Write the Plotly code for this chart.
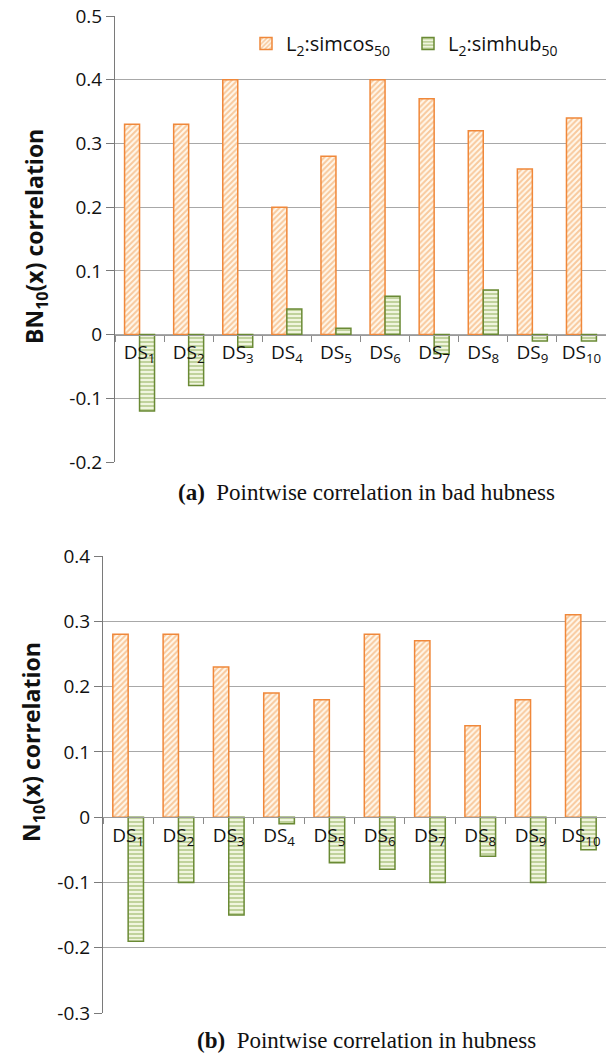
import plotly.graph_objects as go

# Datasets on the category axis
categories = ["DS<sub>1</sub>", "DS<sub>2</sub>", "DS<sub>3</sub>", "DS<sub>4</sub>", "DS<sub>5</sub>",
              "DS<sub>6</sub>", "DS<sub>7</sub>", "DS<sub>8</sub>", "DS<sub>9</sub>", "DS<sub>10</sub>"]

# (a) BN10(x) correlation
bad_simcos = [0.33, 0.33, 0.40, 0.20, 0.28, 0.40, 0.37, 0.32, 0.26, 0.34]
bad_simhub = [-0.12, -0.08, -0.02, 0.04, 0.01, 0.06, -0.03, 0.07, -0.01, -0.01]

# (b) N10(x) correlation
hub_simcos = [0.28, 0.28, 0.23, 0.19, 0.18, 0.28, 0.27, 0.14, 0.18, 0.31]
hub_simhub = [-0.19, -0.10, -0.15, -0.01, -0.07, -0.08, -0.10, -0.06, -0.10, -0.05]

top_ticks = [0.5, 0.4, 0.3, 0.2, 0.1, 0, -0.1, -0.2]
top_ticktext = ["0.5", "0.4", "0.3", "0.2", "0.1", "0", "-0.1", "-0.2"]
bot_ticks = [0.4, 0.3, 0.2, 0.1, 0, -0.1, -0.2, -0.3]
bot_ticktext = ["0.4", "0.3", "0.2", "0.1", "0", "-0.1", "-0.2", "-0.3"]

name_cos = "L<sub>2</sub>:simcos<sub>50</sub>"
name_hub = "L<sub>2</sub>:simhub<sub>50</sub>"

W, H = 606, 1053
SANS = "'Open Sans', Lato, sans-serif"
SERIF = "'Liberation Serif', 'DejaVu Serif', serif"

ORANGE_LINE = "#F0883A"
ORANGE_FG = "#F29A4E"
ORANGE_BG = "#FFF8EC"
GREEN_LINE = "#6A8A35"
GREEN_FG = "#86A64C"
GREEN_BG = "#F0F5DE"


def px_y(p):
    return 1 - p / H


def px_x(p):
    return p / W


top_rng = [-0.2, 0.5]
bot_rng = [-0.3, 0.4]
top_dom_x = [px_x(115), 1.0]
top_dom_y = [px_y(462), px_y(16)]
bot_dom_x = [px_x(103), 1.0]
bot_dom_y = [px_y(1013), px_y(556)]


def zero_pos(dom, rng):
    return dom[0] + (0 - rng[0]) / (rng[1] - rng[0]) * (dom[1] - dom[0])


def cos_marker():
    return dict(color=ORANGE_BG,
                line=dict(color=ORANGE_LINE, width=1.5),
                pattern=dict(shape="/", fgcolor=ORANGE_FG, bgcolor=ORANGE_BG,
                             size=4, solidity=0.5))


def hub_marker():
    return dict(color=GREEN_BG,
                line=dict(color=GREEN_LINE, width=1.5),
                pattern=dict(shape="-", fgcolor=GREEN_FG, bgcolor=GREEN_BG,
                             size=4, solidity=0.45))


fig = go.Figure()
fig.add_trace(go.Bar(x=categories, y=bad_simcos, name=name_cos, marker=cos_marker(),
                     xaxis="x", yaxis="y", legendgroup="cos"))
fig.add_trace(go.Bar(x=categories, y=bad_simhub, name=name_hub, marker=hub_marker(),
                     xaxis="x", yaxis="y", legendgroup="hub"))
fig.add_trace(go.Bar(x=categories, y=hub_simcos, name=name_cos, marker=cos_marker(),
                     xaxis="x2", yaxis="y2", showlegend=False, legendgroup="cos"))
fig.add_trace(go.Bar(x=categories, y=hub_simhub, name=name_hub, marker=hub_marker(),
                     xaxis="x2", yaxis="y2", showlegend=False, legendgroup="hub"))

cat_axis = dict(type="category", anchor="free", showgrid=False, zeroline=False,
                showline=True, linecolor="#9A9A9A", linewidth=1, automargin=False,
                ticks="outside", tickson="boundaries", ticklen=6, tickcolor="#8A8A8A",
                tickangle=0, ticklabelstandoff=1,
                tickfont=dict(family=SANS, size=19, color="#111"), fixedrange=True)
frame_axis = dict(range=[0, 1], showline=True, linecolor="#6E6E6E", linewidth=1.5,
                  showticklabels=False, ticks="", showgrid=False, zeroline=False,
                  automargin=False)
val_axis = dict(showgrid=True, gridcolor="#A8A8A8", gridwidth=1, zeroline=False,
                showline=True, linecolor="#7A7A7A", linewidth=1, automargin=False,
                ticks="outside", ticklen=8, tickcolor="#7A7A7A", ticklabelstandoff=0,
                tickfont=dict(family=SANS, size=19, color="#111"))

fig.update_layout(
    width=W, height=H,
    margin=dict(l=0, r=0, t=0, b=0, autoexpand=False),
    paper_bgcolor="white", plot_bgcolor="white",
    barmode="group", bargap=0.39, bargroupgap=0.0,
    xaxis=dict(cat_axis, domain=top_dom_x, position=zero_pos(top_dom_y, top_rng)),
    yaxis=dict(val_axis, domain=top_dom_y, anchor="x", range=top_rng,
               tickvals=top_ticks, ticktext=top_ticktext),
    xaxis2=dict(cat_axis, domain=bot_dom_x, position=zero_pos(bot_dom_y, bot_rng)),
    yaxis2=dict(val_axis, domain=bot_dom_y, anchor="x2", range=bot_rng,
                tickvals=bot_ticks, ticktext=bot_ticktext),
    xaxis3=dict(frame_axis, domain=top_dom_x, anchor="y", overlaying="x"),
    xaxis4=dict(frame_axis, domain=bot_dom_x, anchor="y2", overlaying="x2"),
    legend=dict(orientation="h", x=px_x(246), y=px_y(24), xanchor="left", yanchor="top",
                bgcolor="rgba(0,0,0,0)", font=dict(family=SANS, size=20, color="#111"),
                entrywidth=117, itemwidth=30),
    annotations=[
        dict(text="<b>BN<sub>10</sub>(x) correlation</b>", textangle=-90,
             x=px_x(36), y=px_y(237), xref="paper", yref="paper", showarrow=False,
             xanchor="center", yanchor="middle",
             font=dict(family=SANS, size=23, color="#111")),
        dict(text="<b>N<sub>10</sub>(x) correlation</b>", textangle=-90,
             x=px_x(32), y=px_y(742), xref="paper", yref="paper", showarrow=False,
             xanchor="center", yanchor="middle",
             font=dict(family=SANS, size=23, color="#111")),
        dict(text="<b>(a)</b>  Pointwise correlation in bad hubness",
             x=px_x(367), y=px_y(492), xref="paper", yref="paper", showarrow=False,
             xanchor="center", yanchor="middle",
             font=dict(family=SERIF, size=23, color="#111")),
        dict(text="<b>(b)</b>  Pointwise correlation in hubness",
             x=px_x(366), y=px_y(1040), xref="paper", yref="paper", showarrow=False,
             xanchor="center", yanchor="middle",
             font=dict(family=SERIF, size=23, color="#111")),
    ],
)

fig.write_html("out.html")
